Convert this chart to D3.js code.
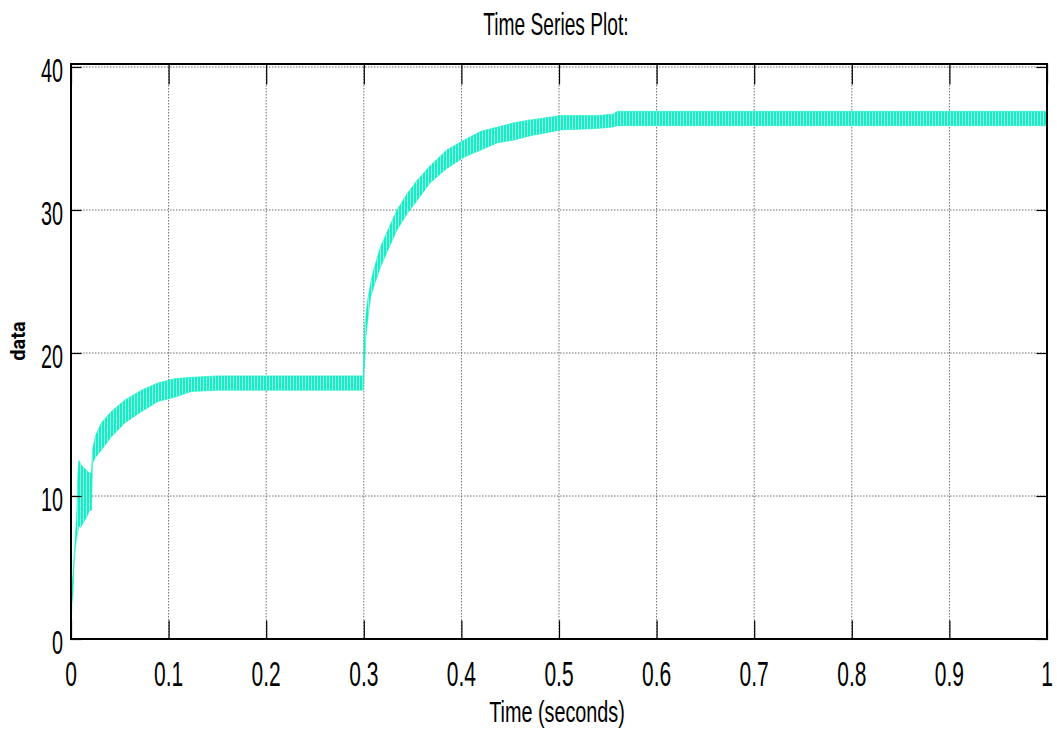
<!DOCTYPE html>
<html>
<head>
<meta charset="utf-8">
<script src="https://cdn.jsdelivr.net/npm/d3@7"></script>
<style>
  body { margin: 0; background: #fff; }
  svg { display: block; }
  svg text { font-family: "Liberation Sans", Arial, "DejaVu Sans", sans-serif; }
</style>
</head>
<body>
<svg id="plot" width="1057" height="749"></svg>
<script>
// Envelope of the rippling scope trace (min / max of the ripple)
const times = [0, 0.001, 0.002, 0.003, 0.0045, 0.006, 0.007, 0.008, 0.010, 0.013, 0.016, 0.019, 0.021,
    0.022, 0.025, 0.031, 0.041, 0.055, 0.072, 0.089, 0.106, 0.123, 0.15, 0.2, 0.25, 0.2995,
    0.3005, 0.302, 0.3035, 0.307, 0.310, 0.317, 0.326, 0.334, 0.345, 0.355, 0.368, 0.385, 0.403,
    0.420, 0.437, 0.454, 0.471, 0.502, 0.539, 0.555, 0.56, 0.6, 0.7, 0.8, 0.9, 1.0];
const upper = [2.5, 4.0, 4.5, 5.6, 7.3, 9.0, 11.5, 12.5, 12.2, 12.0, 11.8, 11.6, 11.6,
    13.2, 14.2, 15.1, 15.9, 16.7, 17.4, 17.9, 18.2, 18.3, 18.4, 18.4, 18.4, 18.4,
    21.8, 22.5, 23.5, 24.9, 25.8, 27.4, 28.8, 30.0, 31.2, 32.1, 33.1, 34.2, 34.9,
    35.5, 35.8, 36.1, 36.3, 36.6, 36.6, 36.7, 36.9, 36.9, 36.9, 36.9, 36.9, 36.9];
const lower = [0.5, 2.5, 3.1, 5.0, 6.4, 7.2, 7.5, 7.9, 7.8, 8.2, 8.5, 9.0, 9.0,
    12.3, 12.7, 13.2, 14.1, 15.1, 15.9, 16.6, 16.9, 17.3, 17.4, 17.4, 17.4, 17.4,
    18.8, 21.0, 22.0, 23.9, 24.6, 26.0, 27.4, 28.6, 29.8, 30.7, 31.9, 32.9, 33.7,
    34.2, 34.7, 34.9, 35.2, 35.6, 35.7, 35.8, 35.9, 35.9, 35.9, 35.9, 35.9, 35.9];

const xTicks = [0, 0.1, 0.2, 0.3, 0.4, 0.5, 0.6, 0.7, 0.8, 0.9, 1];
const xTickLabels = ["0", "0.1", "0.2", "0.3", "0.4", "0.5", "0.6", "0.7", "0.8", "0.9", "1"];
const yTicks = [0, 10, 20, 30, 40];
const yTickLabels = ["0", "10", "20", "30", "40"];

const titleText = "Time Series Plot:";
const xLabelText = "Time (seconds)";
const yLabelText = "data";

class ScopePlot {
    constructor(svgSel) {
        this.svg = d3.select(svgSel);
        this.box = { left: 71, right: 1047, top: 64, bottom: 639 };

        this.x = d3.scaleLinear().domain([0, 1]).range([this.box.left, this.box.right]);
        this.y = d3.scaleLinear().domain([0, 40]).range([this.box.bottom, 67]);

        this.data = times.map((t, i) => ({ t: t, hi: upper[i], lo: lower[i] }));

        this.makePattern();
        this.drawGrid();
        this.drawTrace();
        this.drawTicks();
        this.drawBox();
        this.drawText();
    }

    makePattern() {
        // vertical striping imitates the dense ripple of the scope trace
        const pat = this.svg.append("defs").append("pattern")
            .attr("id", "ripple")
            .attr("patternUnits", "userSpaceOnUse")
            .attr("width", 3)
            .attr("height", 8);
        pat.append("rect").attr("width", 3).attr("height", 8).attr("fill", "#9cf6e3");
        pat.append("rect").attr("width", 2).attr("height", 8).attr("fill", "#12efc6");
    }

    drawGrid() {
        const g = this.svg.append("g")
            .attr("stroke", "#6e6e6e")
            .attr("stroke-width", 1)
            .attr("stroke-dasharray", "1.5,1.5");

        g.selectAll(".vgrid").data(xTicks).enter().append("line")
            .attr("class", "vgrid")
            .attr("x1", d => this.x(d)).attr("x2", d => this.x(d))
            .attr("y1", this.box.top).attr("y2", this.box.bottom);

        g.selectAll(".hgrid").data(yTicks).enter().append("line")
            .attr("class", "hgrid")
            .attr("x1", this.box.left).attr("x2", this.box.right)
            .attr("y1", d => this.y(d)).attr("y2", d => this.y(d));
    }

    drawTrace() {
        const area = d3.area()
            .x(d => this.x(d.t))
            .y0(d => this.y(d.lo))
            .y1(d => this.y(d.hi));

        this.svg.append("path")
            .datum(this.data)
            .attr("fill", "url(#ripple)")
            .attr("stroke", "#12efc6")
            .attr("stroke-width", 0.6)
            .attr("d", area);
    }

    drawTicks() {
        const axes = [
            { axis: d3.axisBottom(this.x).tickValues(xTicks).tickSizeInner(-18), at: `translate(0,${this.box.bottom})` },
            { axis: d3.axisTop(this.x).tickValues(xTicks).tickSizeInner(-20), at: `translate(0,${this.box.top})` },
            { axis: d3.axisLeft(this.y).tickValues(yTicks).tickSizeInner(-10), at: `translate(${this.box.left},0)` },
            { axis: d3.axisRight(this.y).tickValues(yTicks).tickSizeInner(-10), at: `translate(${this.box.right},0)` }
        ];

        axes.forEach(a => {
            const g = this.svg.append("g")
                .attr("transform", a.at)
                .call(a.axis.tickSizeOuter(0).tickFormat(""));
            g.select(".domain").remove();
            g.selectAll(".tick line")
                .attr("stroke", "#000")
                .attr("stroke-width", 1.2)
                .attr("stroke-linecap", "square");
        });
    }

    drawBox() {
        this.svg.append("rect")
            .attr("x", this.box.left)
            .attr("y", this.box.top)
            .attr("width", this.box.right - this.box.left)
            .attr("height", this.box.bottom - this.box.top)
            .attr("fill", "none")
            .attr("stroke", "#000")
            .attr("stroke-width", 2);
    }

    // text in the picture is squeezed sideways, so every label is scaled in x
    squeezed(x, y, sx, text, size, anchor) {
        this.svg.append("g")
            .attr("transform", `translate(${x},${y}) scale(${sx},1)`)
            .append("text")
            .attr("text-anchor", anchor)
            .style("font-size", size + "px")
            .attr("fill", "#000")
            .text(text);
    }

    drawText() {
        xTicks.forEach((v, i) => this.squeezed(this.x(v), 686, 0.6, xTickLabels[i], 35, "middle"));
        yTicks.forEach((v, i) => this.squeezed(63, this.y(v) + 15, 0.6, yTickLabels[i], 33, "end"));

        this.squeezed(556, 35, 0.6, titleText, 32, "middle");
        this.squeezed(557, 722, 0.66, xLabelText, 30, "middle");

        this.svg.append("text")
            .attr("transform", "translate(25,341) rotate(-90)")
            .attr("text-anchor", "middle")
            .style("font-family", "Roboto, 'DejaVu Sans', sans-serif")
            .style("font-size", "20px")
            .style("font-weight", "700")
            .text(yLabelText);
    }
}

new ScopePlot("#plot");
</script>
</body>
</html>
